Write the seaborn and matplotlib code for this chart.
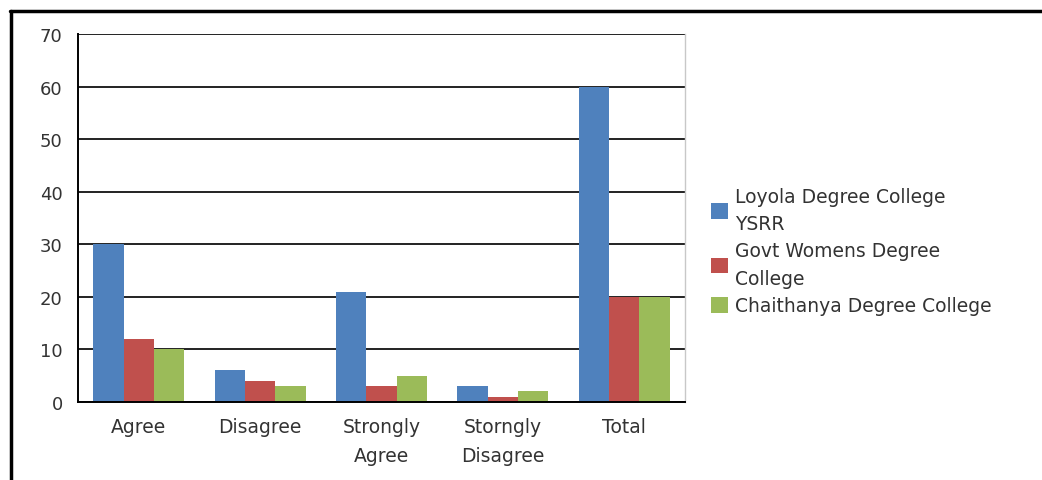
import matplotlib
matplotlib.use("Agg")
import matplotlib.pyplot as plt
from matplotlib.lines import Line2D
import seaborn as sns
import pandas as pd

categories = ["Agree", "Disagree", "Strongly\nAgree", "Storngly\nDisagree", "Total"]
colleges = ["Loyola Degree College\nYSRR", "Govt Womens Degree\nCollege", "Chaithanya Degree College"]
loyola = [30, 6, 21, 3, 60]
govt_womens = [12, 4, 3, 1, 20]
chaithanya = [10, 3, 5, 2, 20]
y_ticks = [0, 10, 20, 30, 40, 50, 60, 70]
colors = ["#4F81BD", "#C0504D", "#9BBB59"]

rows = []
for college, vals in zip(colleges, [loyola, govt_womens, chaithanya]):
    for cat, v in zip(categories, vals):
        rows.append({"category": cat, "college": college, "count": v})
df = pd.DataFrame(rows)

sns.set_theme(style="white")
plt.rcParams["font.family"] = ["DejaVu Sans"]

fig = plt.figure(figsize=(10.42, 4.81), dpi=100)
ax = fig.add_axes([78 / 1042, 1 - 403 / 481, (685 - 78) / 1042, (403 - 35) / 481])

sns.barplot(data=df, x="category", y="count", hue="college", order=categories,
            hue_order=colleges, palette=colors, width=0.75, gap=0,
            saturation=1, ax=ax, legend=True, edgecolor="none", linewidth=0)

ax.set_axisbelow(True)
ax.set_ylim(0, 70)
ax.set_xlim(-0.5, len(categories) - 0.5)
ax.set_yticks(y_ticks)
ax.yaxis.grid(True, color="#222222", linewidth=1.4)
ax.xaxis.grid(False)
ax.set_xlabel("")
ax.set_ylabel("")

for side in ["left", "bottom"]:
    ax.spines[side].set_color("black")
    ax.spines[side].set_linewidth(1.4)
ax.spines["top"].set_visible(False)
ax.spines["right"].set_color("#c8c8c8")
ax.spines["right"].set_linewidth(1.0)

# category labels centred, tick marks on the category boundaries
ax.set_xticks(range(len(categories)))
ax.set_xticklabels(categories, fontsize=13.5, color="#333333", linespacing=1.65)
ax.set_xticks([i - 0.5 for i in range(len(categories) + 1)], minor=True)
ax.tick_params(axis="x", which="major", length=0, pad=11)
ax.tick_params(axis="x", which="minor", length=6, width=1.4, color="black", direction="out")
ax.tick_params(axis="y", which="major", length=8, width=1.4, color="black",
               direction="out", pad=3, labelsize=13, labelcolor="#333333")

handles, labels = ax.get_legend_handles_labels()
ax.legend(handles, labels, loc="center left", bbox_to_anchor=(694 / 1042, 1 - 252 / 481),
          bbox_transform=fig.transFigure, frameon=False, fontsize=13.5,
          handlelength=0.9, handleheight=0.9, handletextpad=0.4,
          labelspacing=0.45, labelcolor="#333333")
for t in ax.get_legend().get_texts():
    t.set_linespacing(1.55)

# outer frame lines along the top and left edges
fig.add_artist(Line2D([10 / 1042, 1], [1 - 12 / 481, 1 - 12 / 481],
                      transform=fig.transFigure, color="black", linewidth=2.5))
fig.add_artist(Line2D([11 / 1042, 11 / 1042], [0, 1 - 12 / 481],
                      transform=fig.transFigure, color="black", linewidth=2.5))

fig.savefig("out.png", dpi=100)
